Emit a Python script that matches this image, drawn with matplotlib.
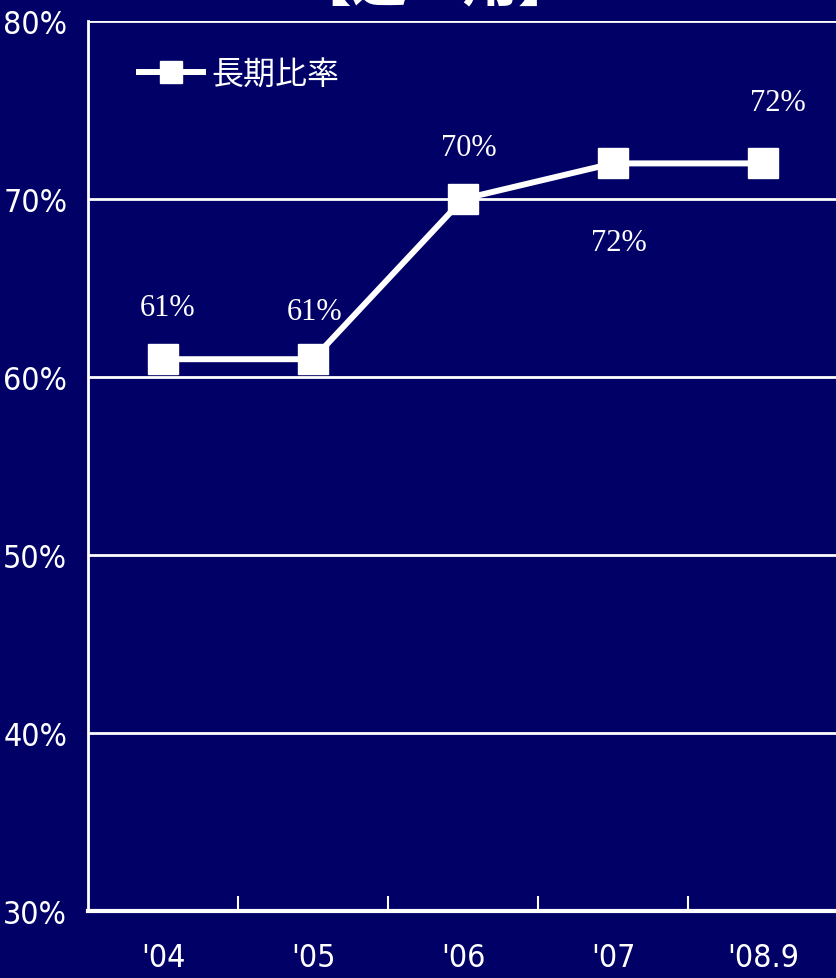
import matplotlib.pyplot as plt
from matplotlib import font_manager

# 長期比率の推移
years = ["'04", "'05", "'06", "'07", "'08.9"]
ratio = [61, 61, 70, 72, 72]
value_labels = ["61%", "61%", "70%", "72%", "72%"]
# ラベル位置 (points)
label_offsets = [(3, 37), (1, 34), (4, 37), (4, -57), (11, 44)]

bg = "#000066"
names = {f.name for f in font_manager.fontManager.ttflist}
if "Liberation Sans Narrow" in names:
    tick_font = dict(family="Liberation Sans Narrow")
else:
    tick_font = dict(family="DejaVu Sans", stretch="condensed")

fig = plt.figure(figsize=(8.36, 9.79), dpi=100, facecolor=bg)
ax = fig.add_axes([88 / 836, 67 / 979, 750 / 836, 890 / 979], facecolor=bg)

x = list(range(len(years)))
ax.plot(x, ratio, color="white", lw=4.3, marker="s", ms=21,
        mfc="white", mec="white", label="長期比率", clip_on=False)

for i, (v, t) in enumerate(zip(ratio, value_labels)):
    ax.annotate(t, (i, v), xytext=label_offsets[i], textcoords="offset points",
                ha="center", va="center", color="white", fontsize=22,
                family="Liberation Serif")

ax.set_xlim(-0.5, 4.5)
ax.set_ylim(30, 80)
ax.set_yticks([30, 40, 50, 60, 70, 80])
ax.set_yticklabels([f"{v}%" for v in [30, 40, 50, 60, 70, 80]],
                   color="white", fontsize=23, **tick_font)
ax.set_xticks(x)
ax.set_xticklabels(years, color="white", fontsize=23, **tick_font)
ax.set_xticks([0.5, 1.5, 2.5, 3.5], minor=True)
ax.tick_params(axis="x", which="major", length=0, pad=22)
ax.tick_params(axis="x", which="minor", direction="in", length=11,
               width=1.5, color="white")
ax.tick_params(axis="y", length=0, pad=38)
for lab in ax.get_yticklabels():
    lab.set_horizontalalignment("center")

ax.grid(axis="y", color="white", lw=2)
ax.set_axisbelow(True)
for s in ["top", "right"]:
    ax.spines[s].set_visible(False)
ax.spines["left"].set_color("white")
ax.spines["left"].set_linewidth(2)
ax.spines["bottom"].set_color("white")
ax.spines["bottom"].set_linewidth(3)

leg = ax.legend(loc="upper left", bbox_to_anchor=(0.03, 0.99), frameon=False,
                handlelength=2.0, handletextpad=0.25, markerscale=0.75,
                prop={"family": ["Noto Sans CJK JP", "DejaVu Sans"], "size": 23})
for t in leg.get_texts():
    t.set_color("white")

# 上端で切れている見出し
fig.text(0.52, 0.986, "【運　用】", color="white", fontsize=40, weight="bold",
         ha="center", va="bottom", family=["Noto Sans CJK JP", "DejaVu Sans"])

fig.savefig("out.png", dpi=100, facecolor=bg)
